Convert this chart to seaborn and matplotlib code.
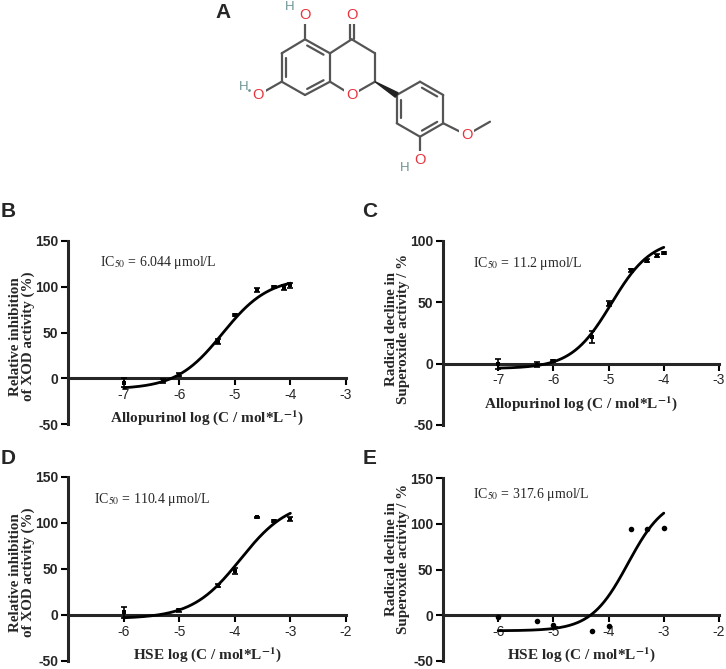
import numpy as np
import pandas as pd
import matplotlib
matplotlib.use("Agg")
import matplotlib.pyplot as plt
import seaborn as sns
from matplotlib.patches import Polygon

# ---------------- data ----------------
allo_logc = [-7, -6.3, -6, -5.3, -5, -4.6, -4.3, -4.12, -4]
hse_logc_xod = [-6, -5, -4.3, -4, -3.6, -3.3, -3]
hse_logc_sox = [-6, -5.3, -5, -4.3, -4, -3.6, -3.3, -3]

xod_allo = [-5, -3, 4, 40, 69, 96.5, 100, 99, 101.5]
xod_allo_err = [5, 2, 2, 3, 1.5, 2, 1, 3, 3]
sox_allo = [0, -1, 2, 22, 49, 76, 84, 88, 90]
sox_allo_err = [4, 2, 1, 5, 2, 1, 1, 1, 1]
xod_hse = [3, 5, 32, 48, 106, 102, 104]
xod_hse_err = [6, 1.5, 2, 3, 1, 1, 2]
sox_hse = [-2, -6, -11, -17.5, -12, 94, 94, 95]

# 4PL fit parameters: bottom, top, log inflection, hill slope
fit_B = [-12, 110, -5.22, 1.05]
fit_C = [-4, 102, -4.95, 1.2]
fit_D = [-4, 125, -3.9, 1.0]
fit_E = [-17, 130, -3.65, 1.3]

ic50_text = ["6.044", "11.2", "110.4", "317.6"]
xlabels = [r"Allopurinol log (C / mol*L$^{\mathbf{-1}}$)",
           r"Allopurinol log (C / mol*L$^{\mathbf{-1}}$)",
           r"HSE log (C / mol*L$^{\mathbf{-1}}$)",
           r"HSE log (C / mol*L$^{\mathbf{-1}}$)"]
ylabels = ["Relative inhibition\nof XOD activity (%)",
           "Radical decline in\nSuperoxide activity / %",
           "Relative inhibition\nof XOD activity (%)",
           "Radical decline in\nSuperoxide activity / %"]
panel_letters = ["A", "B", "C", "D", "E"]

# chemical structure (hesperetin) atoms in figure pixel coordinates
atom_names = ["C5", "C6", "C7", "C8", "C8a", "C4a", "C4", "O4", "C3", "C2", "O1",
              "C1p", "C2p", "C3p", "C4p", "C5p", "C6p", "O4p", "Me", "O3p", "O5", "O7"]
atom_x = [305, 281.7, 281.7, 305, 330, 330, 351.7, 351.7, 375, 375, 351.7,
          396.7, 420, 443.3, 443.3, 420, 396.7, 466.7, 490, 420, 305, 258.3]
atom_y = [39.3, 53.3, 81.7, 95, 81.7, 53.3, 39.3, 15, 53.3, 81.7, 95,
          95, 81.7, 95, 123.3, 136.7, 123.3, 135, 121.7, 160, 15, 95]
single_bonds = [("C5", "C6"), ("C7", "C8"), ("C8a", "C4a"), ("C5", "O5"), ("C7", "O7"),
                ("C4a", "C4"), ("C4", "C3"), ("C3", "C2"), ("C2", "O1"), ("O1", "C8a"),
                ("C1p", "C2p"), ("C3p", "C4p"), ("C5p", "C6p"), ("C5p", "O3p"),
                ("C4p", "O4p"), ("O4p", "Me")]
ring_double_bonds = [("C6", "C7", "A"), ("C8", "C8a", "A"), ("C4a", "C5", "A"),
                     ("C2p", "C3p", "B"), ("C4p", "C5p", "B"), ("C6p", "C1p", "B")]
o_labels = ["O4", "O1", "O4p", "O3p", "O5", "O7"]
h_labels_x = [290, 243.3, 405]
h_labels_y = [6.7, 87.3, 168.3]

W, H = 726, 669
fig = plt.figure(figsize=(W / 100, H / 100), dpi=100)
sns.set_style("ticks")
plt.rcParams["mathtext.fontset"] = "stix"
plt.rcParams["font.family"] = ["Liberation Sans", "DejaVu Sans"]

# ---- structure ----
axs = fig.add_axes([0, 0, 1, 1], zorder=0)
axs.set_xlim(0, W)
axs.set_ylim(H, 0)
axs.axis("off")
pos = {n: (x, y) for n, x, y in zip(atom_names, atom_x, atom_y)}
bond_col = "#555555"
red = "#e8323c"
blw = 1.6
for a, b in single_bonds:
    axs.plot([pos[a][0], pos[b][0]], [pos[a][1], pos[b][1]], color=bond_col, lw=blw,
             solid_capstyle="round", zorder=1)
ring_centers = {"A": (np.mean(atom_x[0:6]), np.mean(atom_y[0:6])),
                "B": (np.mean(atom_x[11:17]), np.mean(atom_y[11:17]))}
for a, b, r in ring_double_bonds:
    (x1, y1), (x2, y2) = pos[a], pos[b]
    axs.plot([x1, x2], [y1, y2], color=bond_col, lw=blw, zorder=1)
    cx, cy = ring_centers[r]
    f = 0.18
    ix1, iy1 = x1 + (cx - x1) * f, y1 + (cy - y1) * f
    ix2, iy2 = x2 + (cx - x2) * f, y2 + (cy - y2) * f
    sx, sy = (ix2 - ix1) * 0.1, (iy2 - iy1) * 0.1
    axs.plot([ix1 + sx, ix2 - sx], [iy1 + sy, iy2 - sy], color=bond_col, lw=blw, zorder=1)
(x1, y1), (x2, y2) = pos["C4"], pos["O4"]
for dx in (-2.2, 2.2):
    axs.plot([x1 + dx, x2 + dx], [y1, y2], color=bond_col, lw=blw, zorder=1)
(x1, y1), (x2, y2) = pos["C2"], pos["C1p"]
vx, vy = x2 - x1, y2 - y1
L = np.hypot(vx, vy)
nx, ny = -vy / L, vx / L
axs.add_patch(Polygon([(x1, y1), (x2 + nx * 2.6, y2 + ny * 2.6), (x2 - nx * 2.6, y2 - ny * 2.6)],
                      closed=True, color="#222222", zorder=1))
for n in o_labels:
    axs.text(pos[n][0], pos[n][1], "O", color=red, fontsize=10.5, ha="center", va="center",
             zorder=3, bbox=dict(boxstyle="square,pad=0.12", fc="white", ec="none"))
for hx, hy in zip(h_labels_x, h_labels_y):
    axs.text(hx, hy, "H", color="#6f9494", fontsize=9.5, ha="center", va="center", zorder=3)
axs.plot([248.5], [90], marker=".", color="#6f9494", ms=2, zorder=3)

# ---- plots ----
def px_axes(l, t, r, b):
    return fig.add_axes([l / W, 1 - b / H, (r - l) / W, (b - t) / H], zorder=2)

panels = [
    dict(box=(68, 241, 346, 424), x=allo_logc, y=xod_allo, e=xod_allo_err, fit=fit_B,
         xlim=(-8, -3), ylim=(-50, 150), yt=[-50, 0, 50, 100, 150], xt=[-7, -6, -5, -4, -3],
         crange=(-7, -4), marker="s", txt=(0.115, 0.885), ylab_y=0.48),
    dict(box=(443, 241, 719, 425), x=allo_logc, y=sox_allo, e=sox_allo_err, fit=fit_C,
         xlim=(-8, -3), ylim=(-50, 100), yt=[-50, 0, 50, 100], xt=[-7, -6, -5, -4, -3],
         crange=(-7, -4), marker="s", txt=(0.109, 0.88), ylab_y=0.52),
    dict(box=(68, 477, 346, 661), x=hse_logc_xod, y=xod_hse, e=xod_hse_err, fit=fit_D,
         xlim=(-7, -2), ylim=(-50, 150), yt=[-50, 0, 50, 100, 150], xt=[-6, -5, -4, -3, -2],
         crange=(-6, -3), marker="s", txt=(0.094, 0.876), ylab_y=0.48),
    dict(box=(443, 478, 719, 661), x=hse_logc_sox, y=sox_hse, e=None, fit=fit_E,
         xlim=(-7, -2), ylim=(-50, 150), yt=[-50, 0, 50, 100, 150], xt=[-6, -5, -4, -3, -2],
         crange=(-6, -3), marker="o", txt=(0.109, 0.908), ylab_y=0.56),
]

serif = ["Liberation Serif", "DejaVu Serif"]
for i, p in enumerate(panels):
    ax = px_axes(*p["box"])
    ax.set_facecolor("none")
    bot, top, x0, hill = p["fit"]
    xs = np.linspace(p["crange"][0], p["crange"][1], 300)
    curve = pd.DataFrame({"x": xs, "y": bot + (top - bot) / (1 + 10 ** ((x0 - xs) * hill))})
    sns.lineplot(data=curve, x="x", y="y", ax=ax, color="black", lw=2.0, zorder=3)
    pts = pd.DataFrame({"x": p["x"], "y": p["y"]})
    if p["e"] is not None:
        ax.errorbar(p["x"], p["y"], yerr=p["e"], fmt="none", ecolor="black", elinewidth=1.2,
                    capsize=2.5, capthick=1.2, zorder=4)
    sns.scatterplot(data=pts, x="x", y="y", ax=ax, marker=p["marker"], s=12 if p["marker"] == "s" else 16,
                    color="black", edgecolor="black", linewidth=0, zorder=5)
    ax.set_xlim(*p["xlim"])
    ax.set_ylim(*p["ylim"])
    ax.set_yticks(p["yt"])
    ax.set_xticks(p["xt"])
    ax.set_yticklabels([str(v) for v in p["yt"]], fontsize=10, fontweight="bold")
    ax.set_xticklabels([str(v) for v in p["xt"]], fontsize=10.5, fontweight="bold")
    sns.despine(ax=ax)
    ax.spines["bottom"].set_position(("data", 0))
    ax.spines["left"].set_linewidth(2.2)
    ax.spines["bottom"].set_linewidth(2.2)
    ax.tick_params(axis="both", direction="out", length=5, width=1.5, pad=2, color="black")
    ax.set_xlabel(xlabels[i], fontsize=11, fontweight="bold", family=serif, labelpad=4.5)
    ax.set_ylabel(ylabels[i], fontsize=10.8, fontweight="bold", family=serif, linespacing=0.98)
    ax.yaxis.set_label_coords(-0.118, p["ylab_y"])
    ax.text(p["txt"][0], p["txt"][1], r"IC$_{50}$ = " + ic50_text[i] + " \u03bcmol/L",
            transform=ax.transAxes, fontsize=10, family=serif, ha="left", va="center")

letter_x = [223, 8, 370, 8, 370]
letter_y = [12, 212, 212, 458, 458]
for lt, lx, ly in zip(panel_letters, letter_x, letter_y):
    fig.text(lx / W, 1 - ly / H, lt, fontsize=15, fontweight="bold", ha="center", va="center",
             family=["Liberation Sans", "DejaVu Sans"])

fig.savefig("out.png", dpi=100)
